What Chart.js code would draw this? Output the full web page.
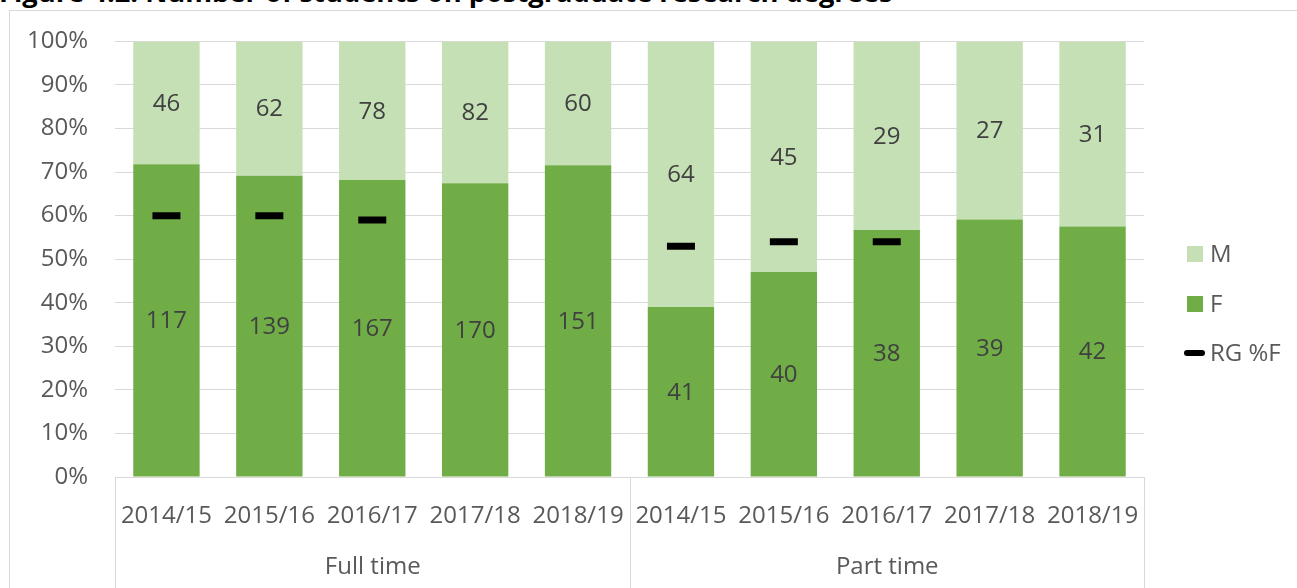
<!DOCTYPE html>
<html><head><meta charset="utf-8">
<script src="https://cdn.jsdelivr.net/npm/chart.js@4"></script>
<style>
html,body{margin:0;padding:0;background:#fff;}
#wrap{position:relative;width:1297px;height:588px;overflow:hidden;}
#title{position:absolute;left:-1px;top:-22px;font-family:"Open Sans";font-weight:bold;font-size:27.3px;line-height:27px;white-space:nowrap;color:#000;}
#c{position:absolute;left:0;top:0;}
</style></head><body>
<div id="wrap"><div id="title">Figure 4.2: Number of students on postgraduate research degrees</div><canvas id="c" width="1297" height="588"></canvas></div>
<script>
const years = ['2014/15','2015/16','2016/17','2017/18','2018/19','2014/15','2015/16','2016/17','2017/18','2018/19'];
const groups = ['Full time','Part time'];
const femaleCounts = [117,139,167,170,151,41,40,38,39,42];
const maleCounts = [46,62,78,82,60,64,45,29,27,31];
const rgPercentF = [60,60,59,null,null,53,54,54,null,null];
const seriesNames = ['M','F','RG %F'];

const femalePct = femaleCounts.map((f,i)=>f/(f+maleCounts[i])*100);
const malePct = maleCounts.map((m,i)=>m/(femaleCounts[i]+m)*100);

const COL_F = '#70AD47', COL_M = '#C5E0B4', GRID = '#D9D9D9', TXT = '#595959', LBL = '#404040';
const FONT = '"Open Sans"';

const extras = {
  id:'extras',
  beforeDraw(chart){
    const ctx = chart.ctx;
    ctx.save();
    ctx.strokeStyle = GRID; ctx.lineWidth = 1;
    ctx.strokeRect(9.5, 10.5, 3000, 3000);
    ctx.restore();
  },
  afterDatasetsDraw(chart){
    const ctx = chart.ctx;
    ctx.save();
    ctx.font = '24px ' + FONT;
    ctx.fillStyle = LBL;
    ctx.textAlign = 'center';
    ctx.textBaseline = 'middle';
    [[1,femaleCounts],[2,maleCounts]].forEach(([di,counts])=>{
      chart.getDatasetMeta(di).data.forEach((bar,i)=>{
        ctx.fillText(String(counts[i]), bar.x, (bar.y+bar.base)/2 + 1);
      });
    });
    ctx.restore();
  },
  afterDraw(chart){
    const ctx = chart.ctx, a = chart.chartArea, H = chart.height;
    ctx.save();
    ctx.strokeStyle = GRID; ctx.lineWidth = 1;
    const mid = Math.round((a.left + a.right)/2) + 0.5;
    [Math.round(a.left)+0.5, mid, Math.round(a.right)+0.5].forEach(x=>{
      ctx.beginPath(); ctx.moveTo(x, a.bottom); ctx.lineTo(x, H); ctx.stroke();
    });
    ctx.font = '24px ' + FONT;
    ctx.fillStyle = TXT;
    ctx.textAlign = 'center'; ctx.textBaseline = 'middle';
    ctx.fillText(groups[0], (a.left+mid)/2, 567);
    ctx.fillText(groups[1], (mid+a.right)/2, 567);
    // legend
    const lx = 1187, ys = [254, 304, 353];
    ctx.textAlign = 'left';
    ctx.fillStyle = COL_M; ctx.fillRect(lx, ys[0]-8, 16, 16);
    ctx.fillStyle = COL_F; ctx.fillRect(lx, ys[1]-8, 16, 16);
    ctx.strokeStyle = '#000'; ctx.lineWidth = 6; ctx.lineCap='round';
    ctx.beginPath(); ctx.moveTo(lx, ys[2]); ctx.lineTo(lx+15, ys[2]); ctx.stroke();
    ctx.fillStyle = TXT;
    seriesNames.forEach((n,i)=>ctx.fillText(n, 1210, ys[i]+1));
    ctx.restore();
  }
};

new Chart(document.getElementById('c'), {
  data: {
    labels: years,
    datasets: [
      {type:'line', label: seriesNames[2], data: rgPercentF, showLine:false, stack:'rg',
       pointStyle:'line', pointRadius:14, pointHoverRadius:14, pointBorderWidth:7, pointHoverBorderWidth:7,
       borderColor:'#000', backgroundColor:'#000'},
      {type:'bar', label: seriesNames[1], data: femalePct, backgroundColor: COL_F, stack:'s',
       barPercentage:0.645, categoryPercentage:1},
      {type:'bar', label: seriesNames[0], data: malePct, backgroundColor: COL_M, stack:'s',
       barPercentage:0.645, categoryPercentage:1}
    ]
  },
  options: {
    responsive:false, animation:false, devicePixelRatio:1,
    layout:{padding:{top:41, right:153, bottom:0, left:0}},
    plugins:{legend:{display:false}, tooltip:{enabled:false}},
    scales:{
      x:{stacked:true, grid:{display:false}, border:{display:true, color:GRID},
         ticks:{color:TXT, font:{family:FONT, size:24}, padding:17, maxRotation:0, autoSkip:false},
         afterFit(s){ s.height = 111; }},
      y:{stacked:true, min:0, max:100, 
         ticks:{stepSize:10, color:TXT, font:{family:FONT, size:24}, padding:27, callback:v=>v+'%'},
         grid:{color:GRID, drawTicks:false}, border:{display:false},
         afterFit(s){ s.width = 115; }}
    }
  },
  plugins:[extras]
});
</script>
</body></html>
